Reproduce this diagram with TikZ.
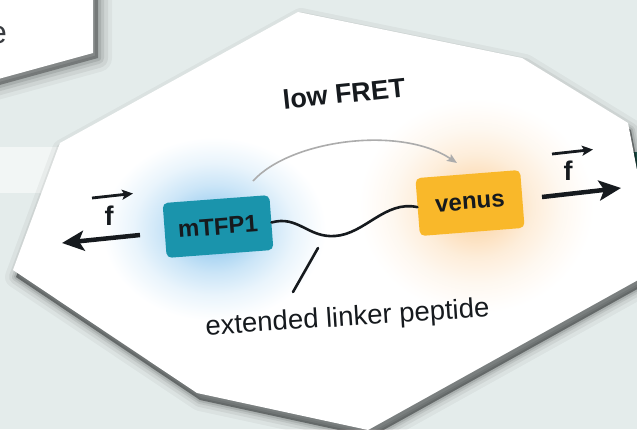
\documentclass[tikz,border=0pt]{standalone}
\usepackage{fontspec}
\setmainfont{Liberation Sans}
\usetikzlibrary{arrows.meta}
\definecolor{bgc}{RGB}{228,236,235}
\definecolor{tealbox}{RGB}{26,148,172}
\definecolor{venusbox}{RGB}{249,184,42}
\definecolor{txtc}{RGB}{22,26,30}
\definecolor{arcgray}{RGB}{172,172,172}
\definecolor{bglow}{RGB}{120,188,235}
\definecolor{oglow}{RGB}{250,200,140}
\definecolor{stripteal}{RGB}{40,110,100}
\pgfdeclareradialshading{blueglow}{\pgfpoint{0bp}{0bp}}{color(0bp)=(bglow); color(6bp)=(bglow!68!white); color(12bp)=(bglow!38!white); color(18bp)=(bglow!16!white); color(23bp)=(bglow!4!white); color(25bp)=(white); color(50bp)=(white)}
\pgfdeclareradialshading{orangeglow}{\pgfpoint{0bp}{0bp}}{color(0bp)=(oglow); color(6bp)=(oglow!62!white); color(12bp)=(oglow!32!white); color(18bp)=(oglow!13!white); color(23bp)=(oglow!3!white); color(25bp)=(white); color(50bp)=(white)}
\begin{document}
\begin{tikzpicture}[x=1pt,y=-1pt,
  protbox/.style={rounded corners=5pt, inner sep=0pt, text=txtc,
    font=\fontsize{24}{26}\selectfont\bfseries},
  flabel/.style={inner sep=0pt, text=txtc, font=\fontsize{27}{29}\selectfont\bfseries},
  forcearrow/.style={line width=4.5pt, txtc, -{Stealth[length=22pt,width=20pt,inset=5pt]}},
  vecarrow/.style={line width=2.8pt, txtc, -{Stealth[length=11pt,width=10pt,inset=2.5pt]}},
  fretarc/.style={line width=1.6pt, arcgray, -{Stealth[length=10pt,width=8pt,inset=2pt]}},
  linker/.style={line width=2.6pt, txtc, line cap=round},
  shadowline/.style={black, line join=round},
]
\useasboundingbox (0,0) rectangle (637,429);
\fill[bgc] (0,0) rectangle (637,429);
% faint background details
\fill[white, opacity=0.55] (0,147) rectangle (68,193);
\fill[stripteal] (633,152) rectangle (640,188);

% top-left card with shadow
\begin{scope}[shift={(5,5)}]
  \fill[black, opacity=0.3] (-20,-20) -- (93,-20) -- (93,53) -- (-20,84) -- cycle;
  \foreach \w/\o in {28/0.04, 20/0.06, 12/0.08, 6/0.1}
    \draw[shadowline, line width=\w pt, opacity=\o] (-20,-20) -- (93,-20) -- (93,53) -- (-20,84) -- cycle;
\end{scope}
\fill[white] (-20,-20) -- (93,-20) -- (93,53) -- (-20,84) -- cycle;
\node[anchor=base west, inner sep=0pt, text=txtc!85!white, font=\fontsize{32}{34}\selectfont] (cardtext) at (-11,43) {e};

% main card shadow
\begin{scope}[shift={(3,7)}]
  \fill[black, opacity=0.4] (13,270) -- (60,143) -- (298,12) -- (522,58) -- (628,123) -- (656,270) -- (368,430) -- (197,393) -- cycle;
  \foreach \w/\o in {22/0.04, 14/0.06, 8/0.08, 4/0.1}
    \draw[shadowline, line width=\w pt, opacity=\o] (13,270) -- (60,143) -- (298,12) -- (522,58) -- (628,123) -- (656,270) -- (368,430) -- (197,393) -- cycle;
\end{scope}
\fill[white] (13,270) -- (60,143) -- (298,12) -- (522,58) -- (628,123) -- (656,270) -- (368,430) -- (197,393) -- cycle;

% glows
\begin{scope}
  \clip (13,270) -- (60,143) -- (298,12) -- (522,58) -- (628,123) -- (656,270) -- (368,430) -- (197,393) -- cycle;
  \shade[shading=orangeglow] (476,206) ellipse (118pt and 108pt);
  \shade[shading=blueglow] (214,229) ellipse (112pt and 92pt);
\end{scope}

% title
\node[anchor=base, inner sep=0pt, rotate=6, text=txtc, font=\fontsize{27}{30}\selectfont\bfseries] (lowfret) at (345,103) {low FRET};

% FRET arc
\coordinate (arcstart) at (253,181);
\coordinate (arcend) at (457,163);
\draw[fretarc] (arcstart) .. controls (290,140) and (400,125) .. (arcend);

% proteins
\node[protbox, fill=tealbox, minimum width=107pt, minimum height=55pt, rotate=4.3] (mtfp) at (218,226.5) {mTFP1};
\node[protbox, fill=venusbox, minimum width=105pt, minimum height=58pt, rotate=4.5] (venus) at (470,203) {venus};

% linker
\draw[linker] (mtfp.east) .. controls (298,215) and (308,238) .. (335,236) .. controls (365,234) and (385,200) .. (venus.west);

% pointer and label
\coordinate (ptrtop) at (318,248);
\coordinate (ptrbot) at (293,292);
\draw[linker] (ptrtop) -- (ptrbot);
\node[anchor=base, inner sep=0pt, rotate=3.8, text=txtc, font=\fontsize{27.5}{30}\selectfont] (linkerlabel) at (348,326) {extended linker peptide};

% left force
\coordinate (fl1) at (140,235);
\coordinate (fl2) at (62,243);
\draw[forcearrow] (fl1) -- (fl2);
\node[flabel] (fleft) at (109,216) {f};
\coordinate (vl1) at (92,198);
\coordinate (vl2) at (133,193.5);
\draw[vecarrow] (vl1) -- (vl2);

% right force
\coordinate (fr1) at (542,197);
\coordinate (fr2) at (621,188);
\draw[forcearrow] (fr1) -- (fr2);
\node[flabel] (fright) at (568,171) {f};
\coordinate (vr1) at (552,154);
\coordinate (vr2) at (593,149.5);
\draw[vecarrow] (vr1) -- (vr2);
\end{tikzpicture}
\end{document}
